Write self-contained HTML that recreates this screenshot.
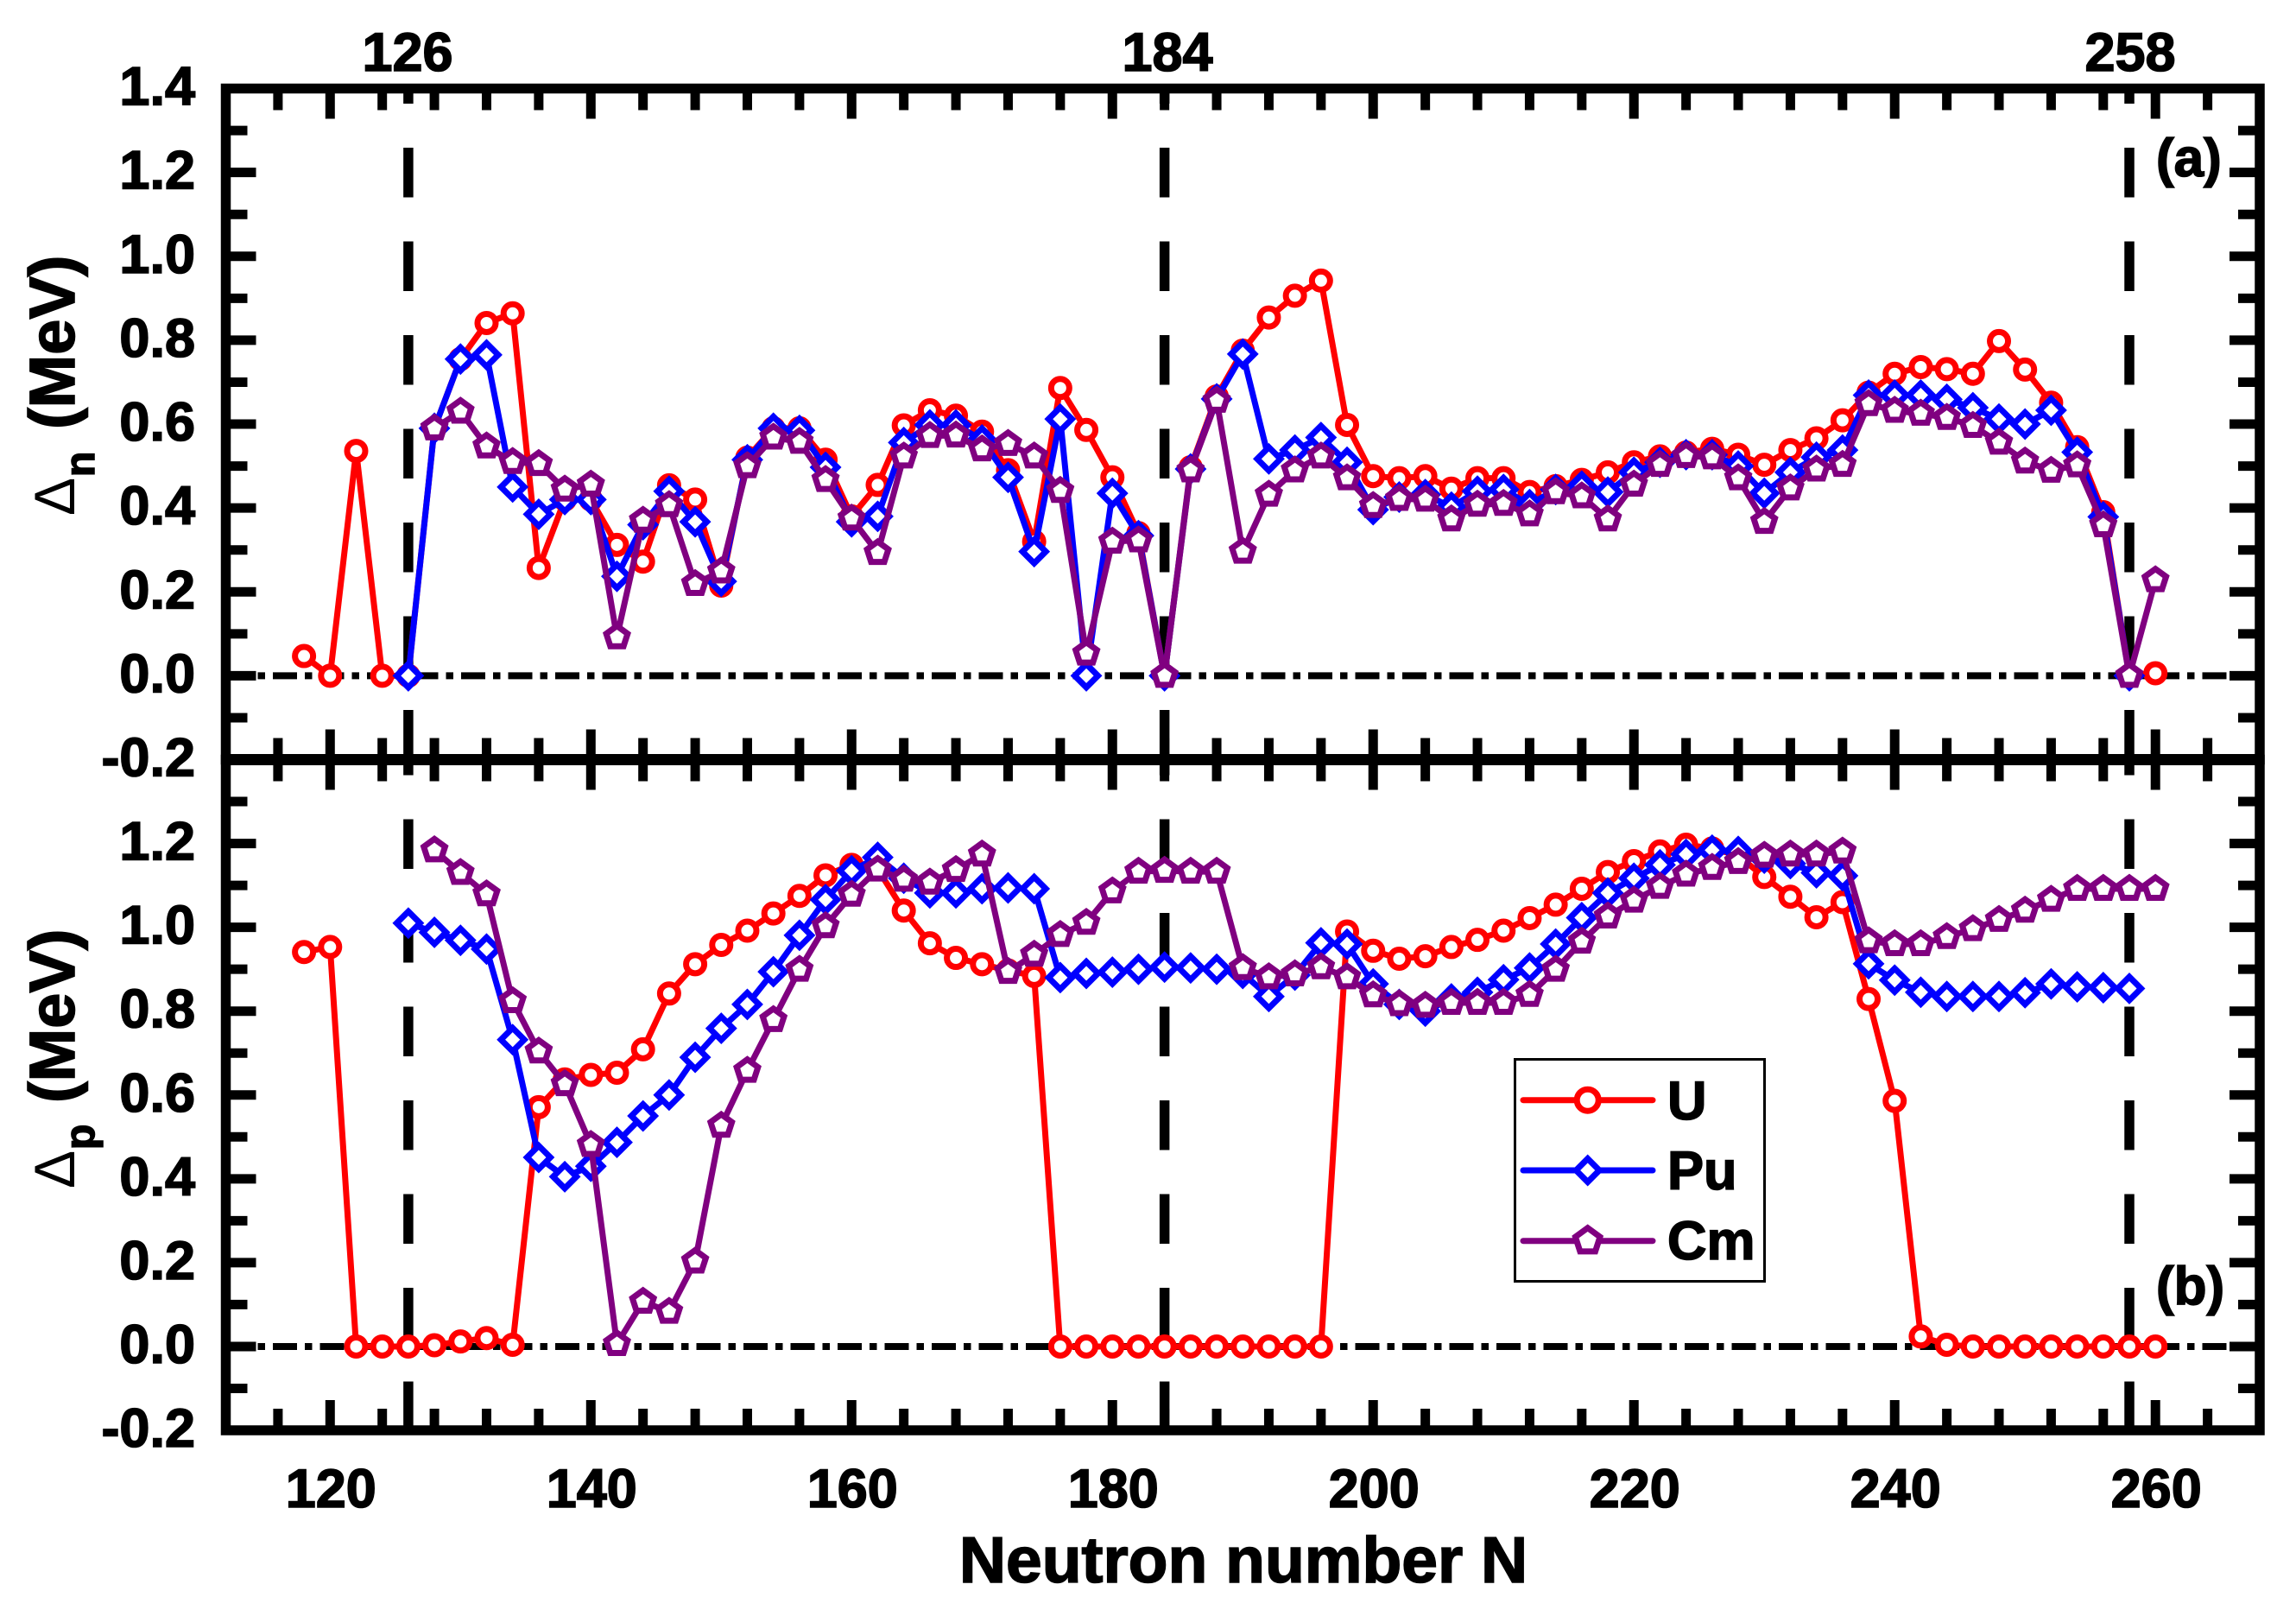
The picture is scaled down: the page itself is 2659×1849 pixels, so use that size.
<!DOCTYPE html>
<html lang="en">
<head>
<meta charset="utf-8">
<title>Neutron and proton pairing gaps</title>
<style>
html,body{margin:0;padding:0;background:#fff;}
svg{display:block;}
text{font-family:"Liberation Sans",Arial,sans-serif;font-weight:700;fill:#000;stroke:#000;stroke-width:1.6px;}
</style>
</head>
<body>
<svg id="chart" xmlns="http://www.w3.org/2000/svg" width="2659" height="1849" viewBox="0 0 2659 1849">
  <rect x="0" y="0" width="2659" height="1849" fill="#fff"/>
  <g id="reference-layer"></g>
  <g id="series-layer"></g>
  <g id="tick-layer"></g>
  <g id="label-layer"></g>

  <rect x="261.5" y="102.5" width="2355.5" height="777" fill="none" stroke="#000" stroke-width="11.5"/>
  <rect x="261.5" y="879.5" width="2355.5" height="776.5" fill="none" stroke="#000" stroke-width="11.5"/>
  <line x1="261.5" x2="2617" y1="879.5" y2="879.5" stroke="#000" stroke-width="13"/>

  <text x="472" y="82" font-size="63" text-anchor="middle">126</text>
  <text x="1352" y="82" font-size="63" text-anchor="middle">184</text>
  <text x="2467" y="82" font-size="63" text-anchor="middle">258</text>

  <text x="2497" y="204" font-size="62">(a)</text>
  <text x="2497" y="1510" font-size="62">(b)</text>

  <text transform="translate(86,597) rotate(-90)" font-size="74"><tspan font-size="66" style="font-weight:400;stroke-width:0" x="0">Δ</tspan><tspan font-size="48" x="45" dy="23">n</tspan><tspan x="100" dy="-23">(MeV)</tspan></text>
  <text transform="translate(86,1376) rotate(-90)" font-size="74"><tspan font-size="66" style="font-weight:400;stroke-width:0" x="0">Δ</tspan><tspan font-size="48" x="45" dy="23">p</tspan><tspan x="99" dy="-23">(MeV)</tspan></text>
  <text x="1440" y="1832" font-size="75" text-anchor="middle">Neutron number N</text>

  <g>
    <rect x="1754.5" y="1226.5" width="289" height="257" fill="#fff" stroke="#000" stroke-width="3"/>
    <g>
      <line x1="1764" x2="1914" y1="1273.7" y2="1273.7" stroke="#ff0000" stroke-width="7" stroke-linecap="round"/>
      <circle cx="1838.7" cy="1273.7" r="12.5" fill="#fff" stroke="#ff0000" stroke-width="7"/>
      <text x="1931" y="1296" font-size="63">U</text>
    </g>
    <g>
      <line x1="1764" x2="1914" y1="1355" y2="1355" stroke="#0000ff" stroke-width="7" stroke-linecap="round"/>
      <polygon points="1838.7,1341.5 1852.2,1355 1838.7,1368.5 1825.2,1355" fill="#fff" stroke="#0000ff" stroke-width="7"/>
      <text x="1931" y="1377" font-size="63">Pu</text>
    </g>
    <g>
      <line x1="1764" x2="1914" y1="1436.7" y2="1436.7" stroke="#800080" stroke-width="7" stroke-linecap="round"/>
      <polygon points="1838.7,1421.7 1852.97,1432.06 1847.52,1448.84 1829.88,1448.84 1824.43,1432.06" fill="#fff" stroke="#800080" stroke-width="7"/>
      <text x="1931" y="1458" font-size="63">Cm</text>
    </g>
  </g>
</svg>

<script>
const neutronNumbers = [118,120,122,124,126,128,130,132,134,136,
  138,140,142,144,146,148,150,152,154,156,
  158,160,162,164,166,168,170,172,174,176,
  178,180,182,184,186,188,190,192,194,196,
  198,200,202,204,206,208,210,212,214,216,
  218,220,222,224,226,228,230,232,234,236,
  238,240,242,244,246,248,250,252,254,256,
  258,260];

const deltaNU = [0.047,0,0.536,0,0,0.59,0.755,0.841,0.864,0.257,
  0.42,0.42,0.312,0.272,0.454,0.42,0.215,0.52,0.59,0.59,
  0.515,0.38,0.455,0.597,0.633,0.62,0.582,0.49,0.32,0.686,
  0.586,0.473,0.34,0,0.497,0.666,0.775,0.854,0.906,0.942,
  0.598,0.476,0.471,0.476,0.446,0.471,0.471,0.438,0.452,0.467,
  0.485,0.509,0.523,0.532,0.541,0.527,0.503,0.538,0.566,0.609,
  0.675,0.72,0.736,0.731,0.72,0.798,0.73,0.651,0.545,0.39,
  0,0.006];

const deltaNPu = [null,null,null,null,0,0.59,0.755,0.765,0.45,0.385,
  0.42,0.42,0.237,0.36,0.44,0.367,0.225,0.515,0.59,0.585,
  0.497,0.367,0.38,0.556,0.598,0.598,0.562,0.473,0.296,0.612,
  0,0.435,0.334,0,0.493,0.66,0.767,0.517,0.538,0.568,
  0.509,0.396,0.426,0.432,0.402,0.44,0.444,0.408,0.444,0.452,
  0.438,0.485,0.509,0.527,0.527,0.50,0.435,0.485,0.521,0.538,
  0.669,0.669,0.669,0.659,0.639,0.612,0.60,0.633,0.533,0.379,
  0,null];

const deltaNCm = [null,null,null,null,null,0.59,0.63,0.547,0.51,0.505,
  0.444,0.456,0.092,0.37,0.407,0.219,0.249,0.50,0.568,0.558,
  0.467,0.375,0.293,0.523,0.572,0.573,0.54,0.553,0.523,0.441,
  0.053,0.32,0.323,0,0.49,0.656,0.296,0.432,0.49,0.523,
  0.471,0.405,0.422,0.42,0.373,0.408,0.41,0.385,0.438,0.428,
  0.373,0.456,0.503,0.524,0.521,0.471,0.367,0.447,0.492,0.503,
  0.648,0.632,0.625,0.615,0.596,0.556,0.511,0.489,0.502,0.359,
  0,0.228];

const deltaPU = [0.941,0.953,0,0,0,0.003,0.012,0.02,0.004,0.571,
  0.637,0.648,0.653,0.709,0.842,0.912,0.958,0.992,1.033,1.075,
  1.124,1.149,1.139,1.04,0.962,0.927,0.912,0.897,0.884,0,
  0,0,0,0,0,0,0,0,0,0,
  0.99,0.944,0.925,0.931,0.953,0.97,0.992,1.022,1.054,1.092,
  1.132,1.158,1.181,1.197,1.188,1.171,1.12,1.073,1.024,1.06,
  0.829,0.586,0.024,0.004,0,0,0,0,0,0,
  0,0];

const deltaPPu = [null,null,null,null,1.01,0.988,0.969,0.948,0.732,0.451,
  0.405,0.43,0.487,0.55,0.60,0.69,0.759,0.816,0.894,0.981,
  1.066,1.135,1.167,1.117,1.082,1.082,1.092,1.094,1.092,0.88,
  0.89,0.893,0.90,0.905,0.903,0.90,0.89,0.835,0.886,0.963,
  0.96,0.865,0.816,0.80,0.829,0.845,0.875,0.903,0.96,1.023,
  1.082,1.117,1.149,1.174,1.184,1.181,1.165,1.152,1.13,1.123,
  0.913,0.874,0.845,0.835,0.835,0.835,0.844,0.865,0.858,0.856,
  0.854,null];

const deltaPCm = [null,null,null,null,null,1.184,1.13,1.079,0.824,0.704,
  0.626,0.481,0.006,0.107,0.083,0.203,0.527,0.658,0.779,0.899,
  1.003,1.078,1.138,1.114,1.107,1.137,1.174,0.894,0.935,0.982,
  1.011,1.086,1.133,1.135,1.133,1.133,0.903,0.881,0.888,0.905,
  0.881,0.838,0.817,0.813,0.82,0.82,0.82,0.839,0.899,0.966,
  1.026,1.064,1.097,1.126,1.142,1.156,1.171,1.174,1.174,1.181,
  0.967,0.96,0.96,0.977,0.996,1.018,1.04,1.066,1.092,1.092,
  1.092,1.092];

const xTickLabels = [120,140,160,180,200,220,240,260];
const panelAYLabels = ["1.4","1.2","1.0","0.8","0.6","0.4","0.2","0.0","-0.2"];
const panelBYLabels = ["1.2","1.0","0.8","0.6","0.4","0.2","0.0","-0.2"];
const magicNumbers = [126,184,258];

const NS = 'http://www.w3.org/2000/svg';
const PLOT = {left:261.5, right:2617, xMin:112, xMax:268};
const PANELS = {
  a:{top:102.5, bottom:879.5},
  b:{top:879.5, bottom:1656}
};
const Y_MIN = -0.2, Y_MAX = 1.4;

function xScale(n){
  return PLOT.left + (n - PLOT.xMin) * (PLOT.right - PLOT.left) / (PLOT.xMax - PLOT.xMin);
}
function yScale(panel, v){
  const p = PANELS[panel];
  return p.bottom - (v - Y_MIN) * (p.bottom - p.top) / (Y_MAX - Y_MIN);
}
function svgEl(tag, parent){
  const el = document.createElementNS(NS, tag);
  parent.appendChild(el);
  return el;
}
function setAll(el, attrs){
  for (const k in attrs) el.setAttribute(k, attrs[k]);
}

const refLayer = document.getElementById('reference-layer');
const seriesLayer = document.getElementById('series-layer');
const tickLayer = document.getElementById('tick-layer');
const labelLayer = document.getElementById('label-layer');

/* zero reference lines */
['a','b'].forEach(function(panel){
  const zero = svgEl('line', refLayer);
  
  
  setAll(zero, {x1:PLOT.left, x2:PLOT.right, y1:yScale(panel,0), y2:yScale(panel,0),
    stroke:'#000', 'stroke-width':8, 'stroke-dasharray':'28 9 8.5 9'});
});

/* magic-number dashed verticals */
magicNumbers.forEach(function(n){
  const upper = svgEl('line', refLayer);
  
  
  setAll(upper, {x1:xScale(n), x2:xScale(n), y1:102.5, y2:879.5, stroke:'#000',
    'stroke-width':11.5, 'stroke-dasharray':'57.5 51', 'stroke-dashoffset':40});
  const lower = svgEl('line', refLayer);
  
  
  setAll(lower, {x1:xScale(n), x2:xScale(n), y1:879.5, y2:1656, stroke:'#000',
    'stroke-width':11.5, 'stroke-dasharray':'57.5 51', 'stroke-dashoffset':39.5});
});

/* ticks */
function addTick(x1, y1, x2, y2, name){
  const t = svgEl('line', tickLayer);
  
  
  setAll(t, {x1:x1, y1:y1, x2:x2, y2:y2, stroke:'#000', 'stroke-width':11});
}
const MAJOR_LEN = 35, MINOR_LEN = 25;
for (let n = PLOT.xMin + 4; n < PLOT.xMax; n += 4){
  const len = n % 20 === 0 ? MAJOR_LEN : MINOR_LEN;
  const x = xScale(n);
  addTick(x, PANELS.a.top, x, PANELS.a.top + len, 'x-tick-a-top-' + n);
  addTick(x, PANELS.a.bottom, x, PANELS.a.bottom - len, 'x-tick-a-bottom-' + n);
  addTick(x, PANELS.b.top, x, PANELS.b.top + len, 'x-tick-b-top-' + n);
  addTick(x, PANELS.b.bottom, x, PANELS.b.bottom - len, 'x-tick-b-bottom-' + n);
}
['a','b'].forEach(function(panel){
  for (let i = 1; i < 16; i++){
    const v = Y_MIN + i * 0.1;
    const y = yScale(panel, v);
    const len = i % 2 === 0 ? MAJOR_LEN : MINOR_LEN;
    addTick(PLOT.left, y, PLOT.left + len, y, 'y-tick-left-' + panel + '-' + i);
    addTick(PLOT.right, y, PLOT.right - len, y, 'y-tick-right-' + panel + '-' + i);
  }
});

/* tick labels */
xTickLabels.forEach(function(n){
  const t = svgEl('text', labelLayer);
  
  
  setAll(t, {x:xScale(n) + 1, y:1745, 'font-size':63, 'text-anchor':'middle'});
  t.textContent = String(n);
});
panelAYLabels.forEach(function(label){
  const t = svgEl('text', labelLayer);
  
  
  setAll(t, {x:226, y:yScale('a', parseFloat(label)) + 19, 'font-size':63, 'text-anchor':'end'});
  t.textContent = label;
});
panelBYLabels.forEach(function(label){
  const t = svgEl('text', labelLayer);
  
  
  setAll(t, {x:226, y:yScale('b', parseFloat(label)) + 19, 'font-size':63, 'text-anchor':'end'});
  t.textContent = label;
});

/* series */
function drawMarker(group, kind, cx, cy, color, name){
  let m;
  if (kind === 'circle'){
    m = svgEl('circle', group);
    setAll(m, {cx:cx, cy:cy, r:10.5});
  } else if (kind === 'diamond'){
    m = svgEl('polygon', group);
    const r = 13.5;
    setAll(m, {points:[cx,cy-r,cx+r,cy,cx,cy+r,cx-r,cy].join(' ')});
  } else {
    m = svgEl('polygon', group);
    const r = 13, pts = [];
    for (let i = 0; i < 5; i++){
      const a = (-90 + i * 72) * Math.PI / 180;
      pts.push((cx + r * Math.cos(a)).toFixed(2) + ',' + (cy + r * Math.sin(a)).toFixed(2));
    }
    setAll(m, {points:pts.join(' ')});
  }
  
  
  setAll(m, {fill:'#fff', stroke:color, 'stroke-width':7});
}
function drawSeries(panel, key, values, color, kind){
  const group = svgEl('g', seriesLayer);
  
  
  const pts = [];
  neutronNumbers.forEach(function(n, i){
    if (values[i] !== null && values[i] !== undefined) pts.push([xScale(n), yScale(panel, values[i]), n]);
  });
  const line = svgEl('polyline', group);
  
  
  setAll(line, {points:pts.map(function(p){return p[0].toFixed(2) + ',' + p[1].toFixed(2);}).join(' '),
    fill:'none', stroke:color, 'stroke-width':7, 'stroke-linejoin':'round'});
  pts.forEach(function(p){
    drawMarker(group, kind, p[0], p[1], color, 'point-' + key + '-' + panel + '-n' + p[2]);
  });
}
drawSeries('a', 'u', deltaNU, '#ff0000', 'circle');
drawSeries('a', 'pu', deltaNPu, '#0000ff', 'diamond');
drawSeries('a', 'cm', deltaNCm, '#800080', 'pentagon');
drawSeries('b', 'u', deltaPU, '#ff0000', 'circle');
drawSeries('b', 'pu', deltaPPu, '#0000ff', 'diamond');
drawSeries('b', 'cm', deltaPCm, '#800080', 'pentagon');
</script>
</body>
</html>
